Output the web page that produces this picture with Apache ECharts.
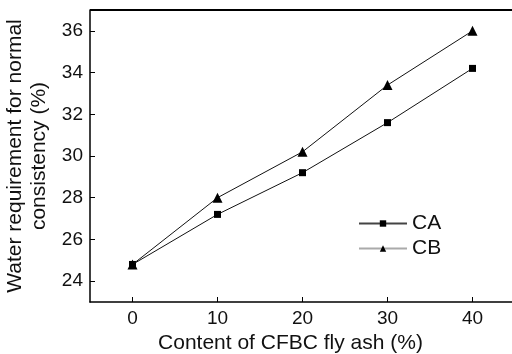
<!DOCTYPE html>
<html><head><meta charset="utf-8">
<script src="https://cdn.jsdelivr.net/npm/echarts@6/dist/echarts.min.js"></script>
<style>html,body{margin:0;padding:0;background:#fff}#c{width:512px;height:354px}</style>
</head><body><div id="c"></div>
<script>
const xValues = [0, 10, 20, 30, 40];
const caValues = [24.8, 27.2, 29.2, 31.6, 34.2];
const cbValues = [24.8, 28.0, 30.2, 33.4, 36.0];
const xTicks = [0, 10, 20, 30, 40];
const yTicks = [24, 26, 28, 30, 32, 34, 36];
const seriesNames = ['CA', 'CB'];

const font = 'Liberation Sans, Arial, sans-serif';
const chart = echarts.init(document.getElementById('c'));
chart.setOption({
  animation: false,
  grid: { left: 90, top: 10, width: 425, height: 292, containLabel: false, outerBoundsMode: 'none' },
  xAxis: {
    type: 'value', min: -5, max: 45,
    name: 'Content of CFBC fly ash (%)', nameLocation: 'middle', nameGap: 21,
    nameTextStyle: { fontFamily: font, fontSize: 21, color: '#111', padding: [0, 24, 0, 0], verticalAlign: 'top' },
    axisLine: { show: true, onZero: false, lineStyle: { color: '#000', width: 1.5 } },
    axisTick: { show: true, inside: true, length: 5, customValues: xTicks, lineStyle: { color: '#000' } },
    axisLabel: { customValues: xTicks, fontFamily: font, fontSize: 19, color: '#111', margin: 7 },
    splitLine: { show: false }
  },
  yAxis: {
    type: 'value', min: 23, max: 37,
    name: 'Water requirement for normal\nconsistency (%)', nameLocation: 'middle', nameGap: 34,
    nameTextStyle: { fontFamily: font, fontSize: 21, color: '#111', lineHeight: 24 },
    axisLine: { show: true, onZero: false, lineStyle: { color: '#000', width: 1.5 } },
    axisTick: { show: true, inside: true, length: 5, customValues: yTicks, lineStyle: { color: '#000' } },
    axisLabel: { customValues: yTicks, fontFamily: font, fontSize: 19, color: '#111', margin: 7 },
    splitLine: { show: false }
  },
  graphic: [{ type: 'line', shape: { x1: 90, y1: 10, x2: 512, y2: 10 }, style: { stroke: '#000', lineWidth: 2 } }],
  legend: {
    orient: 'vertical', left: 358, top: 213, padding: 0, itemWidth: 48, itemHeight: 8, itemGap: 4,
    textStyle: { fontFamily: font, fontSize: 21, color: '#111' },
    data: [
      { name: seriesNames[0], lineStyle: { color: '#444' }, itemStyle: { color: '#000' } },
      { name: seriesNames[1], lineStyle: { color: '#aaa' }, itemStyle: { color: '#000' } }
    ]
  },
  series: [
    { name: seriesNames[0], type: 'line', data: xValues.map((x, i) => [x, caValues[i]]),
      symbol: 'rect', symbolSize: 7, lineStyle: { color: '#111', width: 1 }, itemStyle: { color: '#000' }, z: 3 },
    { name: seriesNames[1], type: 'line', data: xValues.map((x, i) => [x, cbValues[i]]),
      symbol: 'triangle', symbolSize: 10, lineStyle: { color: '#111', width: 1 }, itemStyle: { color: '#000' }, z: 4 }
  ]
});
</script></body></html>
